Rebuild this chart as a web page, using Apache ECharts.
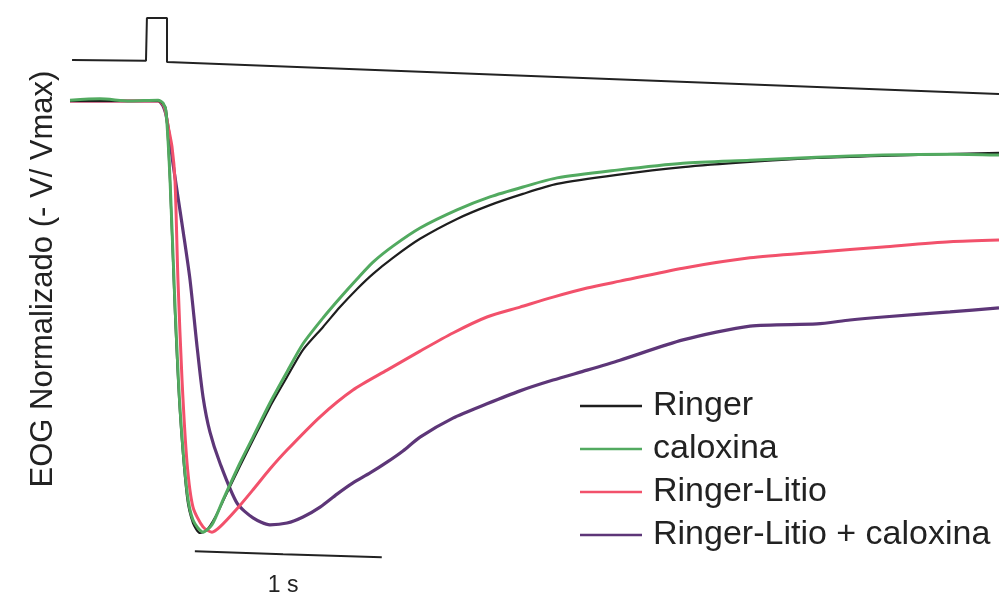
<!DOCTYPE html>
<html>
<head>
<meta charset="utf-8">
<script src="https://cdn.jsdelivr.net/npm/echarts@6/dist/echarts.min.js"></script>
<style>html,body{margin:0;padding:0;background:#fff}#c{width:999px;height:600px}</style>
</head>
<body>
<div id="c"></div>
<script>
// time in seconds, response normalized (-V/Vmax; baseline 0, peak -1)
const seriesNames = ['Ringer', 'caloxina', 'Ringer-Litio', 'Ringer-Litio + caloxina'];
const yAxisTitle = 'EOG Normalizado (- V/ Vmax)';
const scaleBarLabel = '1 s';

const ringer = [
  [0,0],[0.474,0],[0.501,-0.007],[0.517,-0.021],[0.538,-0.183],[0.565,-0.491],[0.592,-0.722],
  [0.630,-0.917],[0.662,-0.977],[0.700,-1.000],[0.737,-0.993],[0.780,-0.965],[0.834,-0.917],
  [0.915,-0.845],[0.985,-0.785],[1.076,-0.708],[1.168,-0.639],[1.254,-0.576],[1.362,-0.523],
  [1.453,-0.477],[1.545,-0.435],[1.631,-0.400],[1.738,-0.363],[1.884,-0.319],[2.083,-0.273],
  [2.260,-0.241],[2.438,-0.215],[2.621,-0.192],[2.944,-0.171],[3.299,-0.153],[3.660,-0.141],
  [4.020,-0.132],[4.376,-0.127],[5.000,-0.120]
];
const caloxina = [
  [0,0.002],[0.161,0.005],[0.323,0],[0.474,0.002],[0.501,-0.005],[0.517,-0.025],[0.538,-0.178],
  [0.565,-0.472],[0.592,-0.711],[0.630,-0.905],[0.662,-0.970],[0.716,-0.998],[0.764,-0.981],
  [0.823,-0.924],[0.915,-0.838],[0.985,-0.778],[1.076,-0.699],[1.168,-0.627],[1.254,-0.562],
  [1.362,-0.502],[1.453,-0.456],[1.545,-0.412],[1.631,-0.373],[1.738,-0.336],[1.884,-0.294],
  [2.083,-0.252],[2.260,-0.222],[2.438,-0.199],[2.621,-0.178],[2.944,-0.160],[3.299,-0.144],
  [3.660,-0.137],[4.020,-0.130],[4.376,-0.125],[4.736,-0.123],[5.000,-0.125]
];
const ringerLitio = [
  [0,0],[0.474,0],[0.506,-0.012],[0.527,-0.056],[0.549,-0.106],[0.565,-0.183],[0.581,-0.414],
  [0.603,-0.646],[0.630,-0.838],[0.662,-0.940],[0.716,-0.986],[0.764,-0.998],[0.807,-0.986],
  [0.899,-0.944],[0.985,-0.900],[1.076,-0.852],[1.168,-0.808],[1.346,-0.731],[1.523,-0.669],
  [1.706,-0.623],[1.884,-0.579],[2.061,-0.537],[2.244,-0.500],[2.422,-0.477],[2.600,-0.454],
  [2.783,-0.433],[2.960,-0.417],[3.299,-0.387],[3.660,-0.363],[4.020,-0.350],[4.376,-0.338],
  [4.736,-0.326],[5.000,-0.322]
];
const ringerLitioCaloxina = [
  [0,0],[0.474,0],[0.501,-0.012],[0.522,-0.044],[0.554,-0.144],[0.581,-0.222],[0.608,-0.299],
  [0.646,-0.414],[0.684,-0.569],[0.716,-0.685],[0.753,-0.766],[0.807,-0.838],[0.899,-0.931],
  [0.985,-0.965],[1.076,-0.981],[1.168,-0.977],[1.254,-0.963],[1.346,-0.940],[1.437,-0.910],
  [1.523,-0.884],[1.615,-0.861],[1.706,-0.836],[1.792,-0.810],[1.884,-0.778],[2.061,-0.734],
  [2.244,-0.701],[2.422,-0.671],[2.600,-0.646],[2.783,-0.623],[2.960,-0.600],[3.299,-0.553],
  [3.660,-0.521],[4.020,-0.516],[4.198,-0.507],[4.376,-0.500],[4.736,-0.488],[5.000,-0.479]
];
// stimulus trace (top)
const stimulus = [
  [0.011,0.095],[0.409,0.093],[0.414,0.093],[0.414,0.192],[0.522,0.192],[0.522,0.090],[5.000,0.016]
];
// 1 s scale bar
const scaleBar = [[0.672,-1.042],[1.147,-1.049],[1.678,-1.056]];

const colors = {
  'Ringer': '#1e1e1e',
  'caloxina': '#52aa60',
  'Ringer-Litio': '#f2516b',
  'Ringer-Litio + caloxina': '#5d3678'
};
const FONT = 'Liberation Sans, Arial, sans-serif';

const chart = echarts.init(document.getElementById('c'), null, {renderer: 'canvas'});

function traceSeries(name, data, width) {
  return {
    name: name, type: 'line', data: data, symbol: 'none', silent: true,
    smooth: 0.25,
    lineStyle: {color: colors[name], width: width},
    itemStyle: {color: colors[name]},
    animation: false
  };
}

chart.setOption({
  animation: false,
  backgroundColor: '#ffffff',
  grid: {left: 70, width: 929, top: 14.6, height: 561.6},
  xAxis: {type: 'value', min: 0, max: 5, show: false},
  yAxis: {type: 'value', min: -1.1, max: 0.2, show: false},
  legend: {
    orient: 'vertical', left: 575, top: 384,
    icon: 'rect', itemWidth: 62, itemHeight: 2.5, itemGap: 9,
    data: seriesNames,
    textStyle: {fontFamily: FONT, fontSize: 34, color: '#222', padding: [0, 0, 0, 6], lineHeight: 30}
  },
  graphic: [{
    type: 'text', x: 43, y: 279, rotation: Math.PI / 2,
    style: {text: yAxisTitle, font: '31px ' + FONT, fill: '#222', align: 'center', verticalAlign: 'middle'}
  }],
  series: [
    {
      name: 'stim', type: 'line', data: stimulus, symbol: 'none', silent: true,
      lineStyle: {color: '#222', width: 2}
    },
    {
      name: 'scale', type: 'line', silent: true,
      data: scaleBar.map((p, i) => ({
        value: p,
        label: i === 1 ? {show: true, position: 'bottom', distance: 20, formatter: scaleBarLabel,
          fontFamily: FONT, fontSize: 23, color: '#222'} : {show: false}
      })),
      symbol: 'circle', symbolSize: 0, showAllSymbol: true,
      itemStyle: {color: '#222'},
      lineStyle: {color: '#222', width: 2}
    },
    traceSeries('Ringer-Litio + caloxina', ringerLitioCaloxina, 3.2),
    traceSeries('Ringer-Litio', ringerLitio, 3),
    traceSeries('Ringer', ringer, 2.2),
    traceSeries('caloxina', caloxina, 3)
  ]
});
</script>
</body>
</html>
